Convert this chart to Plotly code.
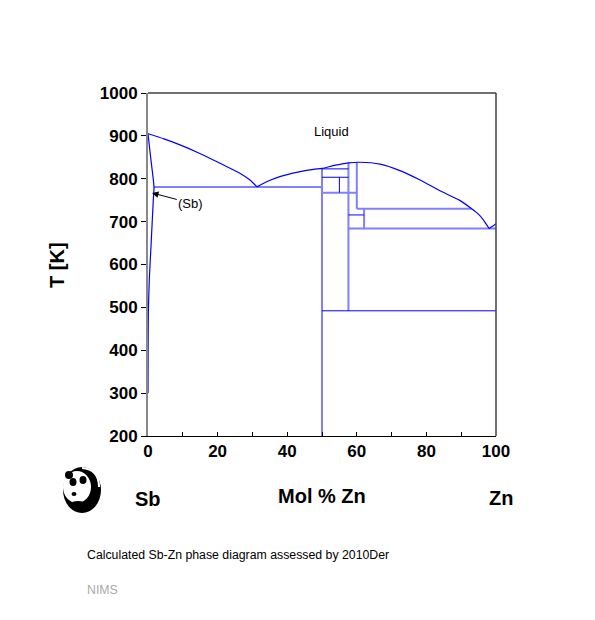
import plotly.graph_objects as go

# ---------------- data (mol % Zn, T in K) ----------------
liq_sb_x = [0, 4.6, 9.2, 14.9, 20.7, 26.4, 29.3, 31.3]
liq_sb_T = [905, 893, 879, 859, 836, 813, 797, 781]

liq_mid_x = [31.3, 34.1, 37.9, 42.7, 47.5, 50.0, 53.5, 57.6, 60.9, 66.7, 72.4,
             78.2, 83.9, 89.7, 93.0, 95.0, 96.2, 97.2, 98.0]
liq_mid_T = [781, 793, 805, 815, 822, 824, 831, 837, 838.5, 834, 819,
             797, 772, 749, 730, 717, 706, 694, 684]

liq_zn_x = [98.0, 99.0, 100.0]
liq_zn_T = [684, 689, 695]

sb_ss_x = [0, 0.86, 1.72, 1.52, 0.86, 0.37, 0.10, 0.03, 0]
sb_ss_T = [905, 843, 781, 750, 642, 564, 487, 400, 300]

# invariant / phase-boundary segments: (x0, T0, x1, T1)
thick_segments = [
    (1.72, 781, 50.0, 781),
    (50.0, 200, 50.0, 824),
    (57.6, 492, 57.6, 837),
    (60.0, 730, 60.0, 838),
    (50.0, 767.6, 60.0, 767.6),
    (62.1, 684, 62.1, 730),
    (60.0, 730, 93.0, 730),
    (57.6, 684, 100.0, 684),
]
thin_segments = [
    (50.0, 823, 57.6, 823),
    (50.0, 803.5, 57.6, 803.5),
    (55.0, 767.6, 55.0, 803.5),
    (57.6, 715.6, 62.1, 715.6),
    (50.0, 492, 100.0, 492),
]

x_tick_vals = [0, 10, 20, 30, 40, 50, 60, 70, 80, 90, 100]
x_tick_text = ["0", "", "20", "", "40", "", "60", "", "80", "", "100"]
y_tick_vals = [200, 300, 400, 500, 600, 700, 800, 900, 1000]
y_tick_text = ["200", "300", "400", "500", "600", "700", "800", "900", "1000"]

# ---------------- figure ----------------
W, H = 595, 620
OFF = 8  # page body margin
L, T = 148 - OFF, 93 - OFF
PW, PH = 348, 343
R, B = W - L - PW, H - T - PH


def px(x):
    return (x - OFF - L) / PW


def py(y):
    return (T + PH + OFF - y) / PH


def seg_xy(segs):
    xs, ys = [], []
    for x0, t0, x1, t1 in segs:
        xs += [x0, x1, None]
        ys += [t0, t1, None]
    return xs, ys


BLUE = "#0000ff"
LIGHT = "#7f7fff"
FONT = "Arial, Liberation Sans, sans-serif"

fig = go.Figure()

tx, ty = seg_xy(thick_segments)
fig.add_trace(go.Scatter(x=tx, y=ty, mode="lines",
                         line=dict(color=LIGHT, width=2), hoverinfo="skip"))
nx, ny = seg_xy(thin_segments)
fig.add_trace(go.Scatter(x=nx, y=ny, mode="lines",
                         line=dict(color=BLUE, width=1), hoverinfo="skip"))

for xs, ts in [(liq_sb_x, liq_sb_T), (liq_mid_x, liq_mid_T),
               (liq_zn_x, liq_zn_T), (sb_ss_x, sb_ss_T)]:
    fig.add_trace(go.Scatter(x=xs, y=ts, mode="lines",
                             line=dict(color=BLUE, width=1.2, shape="spline", smoothing=0.6),
                             hoverinfo="skip"))


def lab(text, x, y, size, color="black", xanchor="center", angle=0):
    return dict(text=text, x=px(x), y=py(y), xref="paper", yref="paper",
                xanchor=xanchor, yanchor="middle", showarrow=False, textangle=angle,
                font=dict(size=size, color=color, family=FONT))


annotations = [
    dict(text="Liquid", x=52.6, y=911, xref="x", yref="y", showarrow=False,
         xanchor="center", yanchor="middle",
         font=dict(size=13, color="black", family=FONT)),
    dict(text="(Sb)", x=1.15, y=767, xref="x", yref="y",
         ax=12.3, ay=743, axref="x", ayref="y", showarrow=True,
         arrowhead=2, arrowsize=1.3, arrowwidth=1, arrowcolor="black",
         font=dict(size=13, color="black", family=FONT)),
    lab("<b>T [K]</b>", 57, 265, 20, angle=-90),
    lab("<b>Mol % Zn</b>", 322, 496, 20),
    lab("<b>Sb</b>", 148, 499, 20),
    lab("<b>Zn</b>", 501, 498, 20),
    lab("Calculated Sb-Zn phase diagram assessed by 2010Der", 85, 555, 12.3, xanchor="left"),
    lab("NIMS", 85, 590, 12.3, color="#aaaaaa", xanchor="left"),
]


def ell(cx, cy, rx, ry, color):
    return dict(type="circle", xref="paper", yref="paper",
                x0=px(cx - rx), x1=px(cx + rx), y0=py(cy + ry), y1=py(cy - ry),
                fillcolor=color, line=dict(width=0), layer="above")


def arc_path(pts):
    (x0, y0), (cx, cy), (x1, y1) = pts
    return "M %f,%f Q %f,%f %f,%f" % (px(x0), py(y0), px(cx), py(cy), px(x1), py(y1))


shapes = [
    # frame: top and right
    dict(type="line", xref="paper", yref="paper", x0=0, x1=1, y0=1, y1=1,
         line=dict(color="#404040", width=1.5)),
    dict(type="line", xref="paper", yref="paper", x0=1, x1=1, y0=0, y1=1,
         line=dict(color="#404040", width=1.5)),
    # panda logo
    ell(82, 490, 19, 23, "black"),
    ell(77, 487, 14, 16, "white"),
    dict(type="path", xref="paper", yref="paper", layer="above",
         path=arc_path([(82, 468), (99, 469), (99, 487)]),
         line=dict(color="white", width=2)),
    ell(69, 475, 4, 4, "black"),
    ell(73, 482, 3.5, 4, "black"),
    ell(83, 480, 3.5, 4, "black"),
    ell(74, 494, 2.5, 2, "black"),
    ell(78, 504, 8, 3, "black"),
]

fig.update_layout(
    width=W, height=H,
    margin=dict(l=L, r=R, t=T, b=B),
    paper_bgcolor="white", plot_bgcolor="white",
    showlegend=False,
    annotations=annotations,
    shapes=shapes,
    xaxis=dict(range=[0, 100], tickvals=x_tick_vals,
               ticktext=["<b>%s</b>" % t if t else "" for t in x_tick_text],
               ticks="inside", ticklen=4, tickcolor="black",
               showline=True, linecolor="black", linewidth=1,
               showgrid=False, zeroline=False,
               tickfont=dict(size=17, color="black", family=FONT)),
    yaxis=dict(range=[200, 1000], tickvals=y_tick_vals,
               ticktext=["<b>%s</b>" % t for t in y_tick_text],
               ticks="outside", ticklen=5, tickcolor="black",
               showline=True, linecolor="#888888", linewidth=2,
               showgrid=False, zeroline=False,
               tickfont=dict(size=17, color="black", family=FONT)),
)

fig.write_html("out.html")
